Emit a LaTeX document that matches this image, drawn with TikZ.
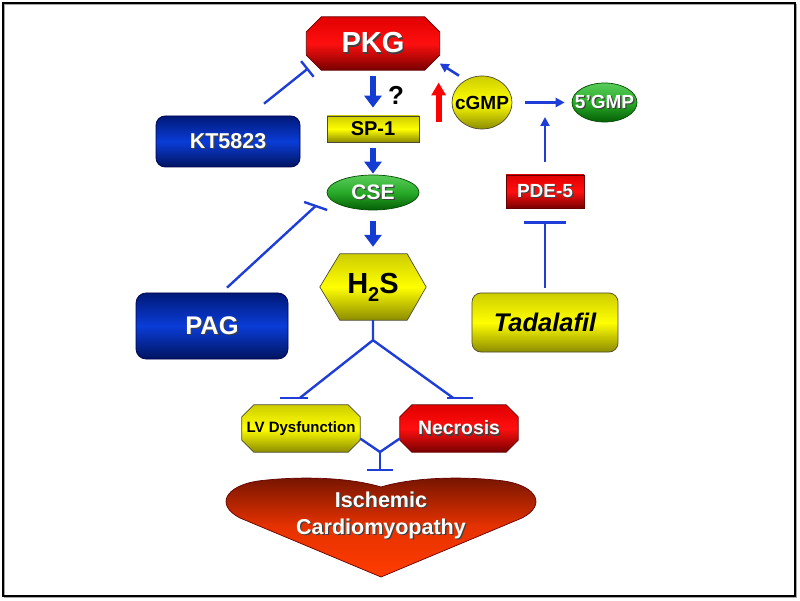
\documentclass[tikz,border=0pt]{standalone}
\usepackage{fontspec}
\setmainfont{Liberation Sans}
\usetikzlibrary{arrows.meta,calc,shapes.geometric}
\pgfdeclarelayer{bg}
\pgfsetlayers{bg,main}
\definecolor{lblue}{RGB}{30,62,215}
\definecolor{fblue}{RGB}{20,60,210}
\definecolor{rtop}{RGB}{225,0,0}
\definecolor{rmid}{RGB}{255,15,15}
\definecolor{rbot}{RGB}{120,0,0}
\definecolor{ytop}{RGB}{205,205,0}
\definecolor{ymid}{RGB}{255,255,0}
\definecolor{ybot}{RGB}{140,140,0}
\definecolor{btop}{RGB}{0,25,120}
\definecolor{bmid}{RGB}{10,60,215}
\definecolor{bbot}{RGB}{0,20,95}
\definecolor{gtop}{RGB}{90,205,90}
\definecolor{gmid}{RGB}{40,170,40}
\definecolor{gbot}{RGB}{5,95,5}
\definecolor{htop}{RGB}{115,20,0}
\definecolor{hmid}{RGB}{230,50,0}
\definecolor{hbot}{RGB}{255,60,0}
\newcommand{\shad}[1]{\makebox[0pt][l]{\kern1.3pt\raisebox{-1.3pt}{\color{black!75}#1}}#1}
\newcommand{\octo}[3]{%
  \path[#3] ($(#1.north west)+(#2,0)$) -- ($(#1.north east)+(-#2,0)$) -- ($(#1.north east)+(0,#2)$)
    -- ($(#1.south east)+(0,-#2)$) -- ($(#1.south east)+(-#2,0)$) -- ($(#1.south west)+(#2,0)$)
    -- ($(#1.south west)+(0,-#2)$) -- ($(#1.north west)+(0,#2)$) -- cycle;}
\begin{document}
\begin{tikzpicture}[x=1pt,y=-1pt,
  every node/.style={inner sep=0pt},
  fsz/.style={font=\bfseries\fontsize{#1}{#1}\selectfont},
  redfill/.style={top color=rtop, bottom color=rbot, middle color=rmid, draw=black!60!red, line width=0.7pt},
  yelfill/.style={top color=ytop, bottom color=ybot, middle color=ymid, draw=black!60!olive, line width=0.7pt},
  bluefill/.style={top color=btop, bottom color=bbot, middle color=bmid, draw=black!70!blue, line width=0.7pt},
  grnfill/.style={top color=gtop, bottom color=gbot, middle color=gmid, draw=black!70!green, line width=0.7pt},
  heartfill/.style={top color=htop, bottom color=hbot, middle color=hmid, draw=black!60!red, line width=0.7pt},
  blueline/.style={draw=lblue, line width=2.4pt},
  inh/.style={draw=lblue, line width=2.4pt, -{Bar[width=#1]}},
  inh/.default=24pt,
  thinarr/.style={draw=lblue, line width=2.6pt, -{Triangle[length=9pt,width=9pt]}},
  fatarr/.style={draw=fblue, line width=6.5pt, -{Triangle[length=12pt,width=17pt]}},
  redarr/.style={draw=red, line width=6pt, -{Triangle[length=13pt,width=14pt]}},
]
\useasboundingbox (0,0) rectangle (800,601);
\draw[black!35, line width=1.8pt] (4.5,4.5) rectangle (796.5,597.5);
\draw[black, line width=1.8pt] (3,3) rectangle (795,596);

% nodes
\node[fsz=29, text=white, minimum width=133pt, minimum height=53pt] (pkg) at (373,43.5) {\shad{PKG}};
\node[fsz=21.5, text=white, bluefill, rounded corners=9pt, minimum width=144pt, minimum height=51pt] (kt) at (228,141.5) {\shad{KT5823}};
\node[fsz=20, text=black, yelfill, minimum width=92pt, minimum height=26pt] (sp1) at (373,129) {SP-1};
\node[fsz=26] (q) at (396,95) {?};
\node[fsz=21, text=white, grnfill, ellipse, minimum width=92pt, minimum height=35pt] (cse) at (373,192.5) {\makebox[0pt]{\shad{CSE}}};
\node[fsz=29, text=black, minimum width=106pt, minimum height=66pt] (h2s) at (373,287) {H\raisebox{-0.28em}{\fontsize{20}{20}\selectfont 2}S};
\node[fsz=25.5, text=white, bluefill, rounded corners=10pt, minimum width=152pt, minimum height=66pt] (pag) at (212,326) {\shad{PAG}};
\node[fsz=19, text=black, yelfill, ellipse, minimum width=60pt, minimum height=53pt] (cgmp) at (482,102.5) {\makebox[0pt]{cGMP}};
\node[fsz=19, text=white, grnfill, ellipse, minimum width=65pt, minimum height=39pt] (gmp5) at (604.5,102.5) {\makebox[0pt]{\shad{5’GMP}}};
\node[fsz=19, text=white, redfill, minimum width=78pt, minimum height=33pt] (pde) at (545,191.5) {\shad{PDE-5}};
\node[font=\bfseries\itshape\fontsize{25.5}{25.5}\selectfont, text=black, yelfill, rounded corners=9pt, minimum width=146pt, minimum height=59pt] (tad) at (545,322.5) {Tadalafil};
\node[fsz=15, text=black, minimum width=118pt, minimum height=47pt] (lv) at (301,428.5) {LV Dysfunction};
\node[fsz=19.4, text=white, minimum width=118pt, minimum height=47pt] (nec) at (459,428.5) {\shad{Necrosis}};
\node[font=\bfseries\fontsize{21.5}{27}\selectfont, text=white, align=center] (heart) at (381,516) {\shad{Ischemic}\\\shad{Cardiomyopathy}};
\coordinate (heartTop) at (381,487);
\coordinate (cat) at (545,103);
\coordinate (hb) at ($(h2s.south)+(0,20)$);
\coordinate (jn) at (380,452);
\coordinate (lvend) at ($(lv.north)+(-1,-7)$);
\coordinate (necend) at ($(nec.north)+(-6,-7)$);
\coordinate (pagend) at ($(cse.west)+(-11,13.5)$);

\begin{pgfonlayer}{bg}
  \octo{pkg}{15}{redfill}
  \octo{lv}{12}{yelfill}
  \octo{nec}{12}{redfill}
  \path[yelfill] ($(h2s.north west)+(20,0)$) -- ($(h2s.north east)+(-19,0)$) -- (h2s.east)
    -- ($(h2s.south east)+(-19,0)$) -- ($(h2s.south west)+(20,0)$) -- (h2s.west) -- cycle;
  \path[heartfill] (heartTop) .. controls (348,477) and (298,476) .. (258,481)
    .. controls (225,486) and (215,505) .. (240,518) -- (381,577) -- (522,518)
    .. controls (547,505) and (537,486) .. (504,481)
    .. controls (464,476) and (414,477) .. (heartTop) -- cycle;
\end{pgfonlayer}

% connectors
\draw[fatarr, shorten <=6pt, shorten >=8pt] (pkg) -- (sp1);
\draw[fatarr, shorten <=6pt, shorten >=1pt] (sp1) -- (cse);
\draw[fatarr, shorten <=11pt, shorten >=7pt] (cse) -- (h2s);
\draw[inh=20pt] ($(kt.north)+(36,-12)$) -- ($(pkg.south west)+(2,-2)$);
\draw[blueline] ($(pag.north)+(15,-5)$) -- (pagend);
\draw[blueline] ($(pagend)+(-11.5,-4)$) -- ($(pagend)+(11.5,4)$);
\draw[blueline] (h2s.south) -- (hb) -- (lvend);
\draw[blueline] (hb) -- (necend);
\draw[blueline] ($(lvend)+(-20,0)$) -- ($(lvend)+(8,0)$);
\draw[blueline] ($(necend)+(-6,0)$) -- ($(necend)+(20,0)$);
\draw[blueline] ($(lv.east)+(0,10)$) -- (jn) -- ($(nec.west)+(0,10)$);
\draw[inh=26pt] (jn) -- ($(heartTop)+(-1,-16)$);
\draw[inh=42pt] ($(tad.north)+(0,-5)$) -- ($(pde.south)+(0,13)$);
\draw[thinarr] ($(pde.north)+(0,-13)$) -- ($(cat)+(0,14)$);
\draw[thinarr, shorten <=13pt, shorten >=7pt] (cgmp) -- (gmp5);
\draw[thinarr] ($(cgmp.north)+(-23,0)$) -- ($(pkg.east)+(0,20)$);
\draw[redarr] ($(cgmp.west)+(-13,20)$) -- ($(cgmp.west)+(-13,-20)$);
\end{tikzpicture}
\end{document}
